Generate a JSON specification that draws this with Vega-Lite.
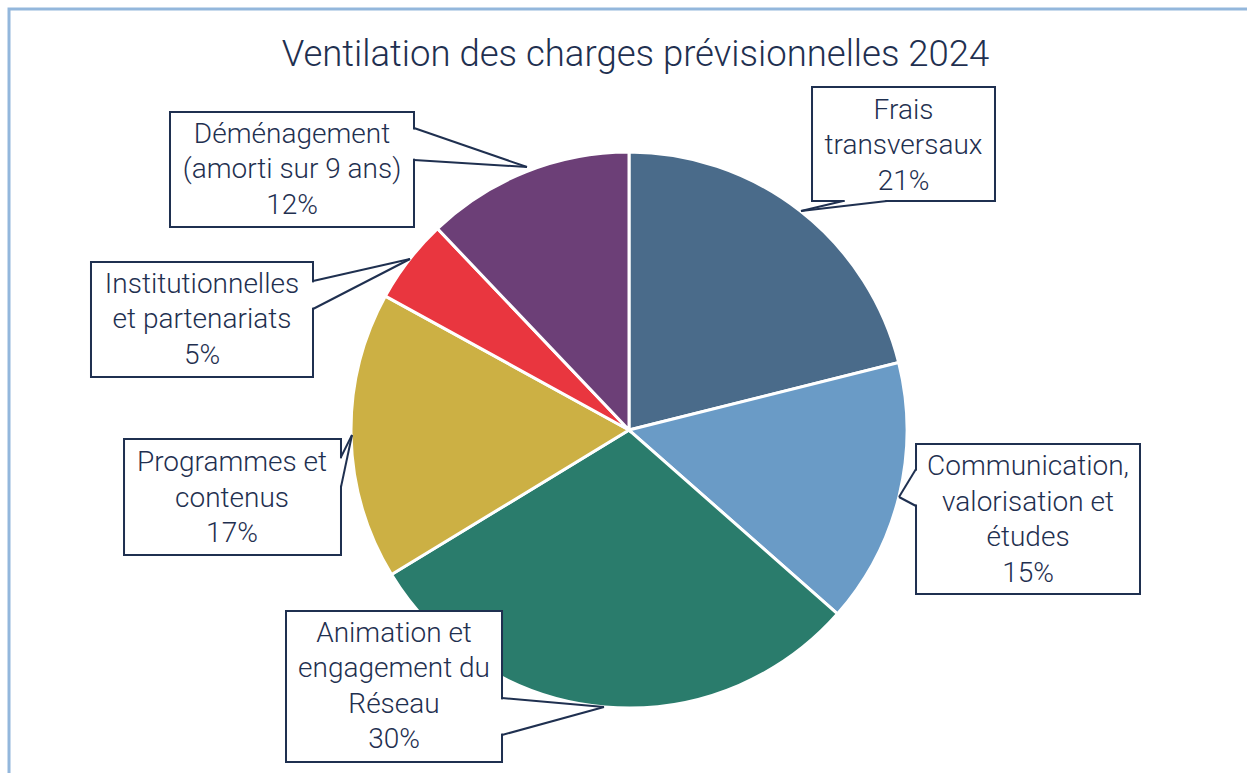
{
  "$schema": "https://vega.github.io/schema/vega-lite/v6.json",
  "width": 1247,
  "height": 693,
  "autosize": {"type": "none"},
  "padding": {"top": 80, "left": 0, "right": 0, "bottom": 0},
  "background": "white",
  "title": {
    "text": "Ventilation des charges prévisionnelles 2024",
    "font": "Roboto",
    "fontSize": 36.5,
    "fontWeight": 300,
    "color": "#1f3050",
    "anchor": "middle",
    "baseline": "alphabetic",
    "offset": -95,
    "dx": 12
  },
  "config": {
    "view": {"stroke": null},
    "axis": {"disable": true},
    "text": {"font": "Roboto", "fontSize": 28, "fontWeight": 300, "color": "#1f3050", "lineHeight": 35.5, "align": "center", "baseline": "middle"}
  },
  "data": {
    "values": [
      {"category": "Frais transversaux", "share": 0.211, "label": ["Frais", "transversaux", "21%"]},
      {"category": "Communication, valorisation et études", "share": 0.154, "label": ["Communication,", "valorisation et", "études", "15%"]},
      {"category": "Animation et engagement du Réseau", "share": 0.298, "label": ["Animation et", "engagement du", "Réseau", "30%"]},
      {"category": "Programmes et contenus", "share": 0.167, "label": ["Programmes et", "contenus", "17%"]},
      {"category": "Institutionnelles et partenariats", "share": 0.049, "label": ["Institutionnelles", "et partenariats", "5%"]},
      {"category": "Déménagement (amorti sur 9 ans)", "share": 0.121, "label": ["Déménagement", "(amorti sur 9 ans)", "12%"]}
    ]
  },
  "layer": [
    {
      "data": {"values": [{}]},
      "mark": {"type": "rect", "fill": null, "fillOpacity": 0, "stroke": "#93b7dc", "strokeWidth": 3},
      "encoding": {
        "x": {"datum": -223.02, "scale": {"domain": [-226.26, 222.30], "nice": false, "zero": false}},
        "x2": {"datum": 226.98},
        "y": {"datum": 151.44, "scale": {"domain": [-123.38, 125.90], "nice": false, "zero": false}},
        "y2": {"datum": -133.09}
      }
    },
    {
      "transform": [{"window": [{"op": "row_number", "as": "idx"}]}],
      "mark": {"type": "arc", "outerRadius": 278, "stroke": "white", "strokeWidth": 3},
      "encoding": {
        "x": {"datum": 0},
        "y": {"datum": 0},
        "theta": {"field": "share", "type": "quantitative", "stack": true},
        "order": {"field": "idx", "type": "quantitative"},
        "color": {
          "field": "category",
          "type": "nominal",
          "legend": null,
          "scale": {
            "domain": ["Frais transversaux", "Communication, valorisation et études", "Animation et engagement du Réseau", "Programmes et contenus", "Institutionnelles et partenariats", "Déménagement (amorti sur 9 ans)"],
            "range": ["#4a6b8a", "#6a9bc6", "#2a7c6c", "#ccb044", "#e9363f", "#6c3f77"]
          }
        }
      }
    },
    {
      "transform": [{"filter": {"field": "category", "equal": "Frais transversaux"}}],
      "layer": [
        {"mark": {"type": "rect", "fill": "white", "stroke": "#1f3050", "strokeWidth": 2}, "encoding": {"x": {"datum": 65.83}, "x2": {"datum": 131.65}, "y": {"datum": 123.38}, "y2": {"datum": 82.37}}},
        {"mark": {"type": "rule", "stroke": "white", "strokeWidth": 4}, "encoding": {"x": {"datum": 77.6}, "x2": {"datum": 92.2}, "y": {"datum": 82.37}, "y2": {"datum": 82.37}}},
        {"mark": {"type": "rule", "stroke": "#1f3050", "strokeWidth": 2}, "encoding": {"x": {"datum": 76.98}, "y": {"datum": 82.37}, "x2": {"datum": 61.87}, "y2": {"datum": 78.78}}},
        {"mark": {"type": "rule", "stroke": "#1f3050", "strokeWidth": 2}, "encoding": {"x": {"datum": 92.81}, "y": {"datum": 82.37}, "x2": {"datum": 61.87}, "y2": {"datum": 78.78}}},
        {"mark": {"type": "text"}, "encoding": {"x": {"datum": 98.74}, "y": {"datum": 114.75}, "text": {"field": "label"}}}
      ]
    },
    {
      "transform": [{"filter": {"field": "category", "equal": "Communication, valorisation et études"}}],
      "layer": [
        {"mark": {"type": "rect", "fill": "white", "stroke": "#1f3050", "strokeWidth": 2}, "encoding": {"x": {"datum": 103.24}, "x2": {"datum": 183.81}, "y": {"datum": -5.04}, "y2": {"datum": -58.99}}},
        {"mark": {"type": "rule", "stroke": "white", "strokeWidth": 4}, "encoding": {"x": {"datum": 103.24}, "x2": {"datum": 103.24}, "y": {"datum": -14.6}, "y2": {"datum": -26.8}}},
        {"mark": {"type": "rule", "stroke": "#1f3050", "strokeWidth": 2}, "encoding": {"x": {"datum": 103.24}, "y": {"datum": -14.03}, "x2": {"datum": 97.12}, "y2": {"datum": -24.10}}},
        {"mark": {"type": "rule", "stroke": "#1f3050", "strokeWidth": 2}, "encoding": {"x": {"datum": 103.24}, "y": {"datum": -27.34}, "x2": {"datum": 97.12}, "y2": {"datum": -24.10}}},
        {"mark": {"type": "text"}, "encoding": {"x": {"datum": 143.53}, "y": {"datum": -13.31}, "text": {"field": "label"}}}
      ]
    },
    {
      "transform": [{"filter": {"field": "category", "equal": "Animation et engagement du Réseau"}}],
      "layer": [
        {"mark": {"type": "rect", "fill": "white", "stroke": "#1f3050", "strokeWidth": 2}, "encoding": {"x": {"datum": -123.38}, "x2": {"datum": -45.68}, "y": {"datum": -65.11}, "y2": {"datum": -119.42}}},
        {"mark": {"type": "rule", "stroke": "white", "strokeWidth": 4}, "encoding": {"x": {"datum": -45.68}, "x2": {"datum": -45.68}, "y": {"datum": -96.9}, "y2": {"datum": -109.2}}},
        {"mark": {"type": "rule", "stroke": "#1f3050", "strokeWidth": 2}, "encoding": {"x": {"datum": -45.68}, "y": {"datum": -96.40}, "x2": {"datum": -8.99}, "y2": {"datum": -99.64}}},
        {"mark": {"type": "rule", "stroke": "#1f3050", "strokeWidth": 2}, "encoding": {"x": {"datum": -45.68}, "y": {"datum": -109.71}, "x2": {"datum": -8.99}, "y2": {"datum": -99.64}}},
        {"mark": {"type": "text"}, "encoding": {"x": {"datum": -84.53}, "y": {"datum": -73.38}, "text": {"field": "label"}}}
      ]
    },
    {
      "transform": [{"filter": {"field": "category", "equal": "Programmes et contenus"}}],
      "layer": [
        {"mark": {"type": "rect", "fill": "white", "stroke": "#1f3050", "strokeWidth": 2}, "encoding": {"x": {"datum": -181.65}, "x2": {"datum": -103.60}, "y": {"datum": -3.24}, "y2": {"datum": -44.96}}},
        {"mark": {"type": "rule", "stroke": "white", "strokeWidth": 4}, "encoding": {"x": {"datum": -103.60}, "x2": {"datum": -103.60}, "y": {"datum": -10.2}, "y2": {"datum": -20.0}}},
        {"mark": {"type": "rule", "stroke": "#1f3050", "strokeWidth": 2}, "encoding": {"x": {"datum": -103.60}, "y": {"datum": -9.71}, "x2": {"datum": -99.64}, "y2": {"datum": -1.80}}},
        {"mark": {"type": "rule", "stroke": "#1f3050", "strokeWidth": 2}, "encoding": {"x": {"datum": -103.60}, "y": {"datum": -20.50}, "x2": {"datum": -99.64}, "y2": {"datum": -1.80}}},
        {"mark": {"type": "text"}, "encoding": {"x": {"datum": -142.81}, "y": {"datum": -11.87}, "text": {"field": "label"}}}
      ]
    },
    {
      "transform": [{"filter": {"field": "category", "equal": "Institutionnelles et partenariats"}}],
      "layer": [
        {"mark": {"type": "rect", "fill": "white", "stroke": "#1f3050", "strokeWidth": 2}, "encoding": {"x": {"datum": -193.53}, "x2": {"datum": -113.67}, "y": {"datum": 60.43}, "y2": {"datum": 19.06}}},
        {"mark": {"type": "rule", "stroke": "white", "strokeWidth": 4}, "encoding": {"x": {"datum": -113.67}, "x2": {"datum": -113.67}, "y": {"datum": 53.1}, "y2": {"datum": 44.0}}},
        {"mark": {"type": "rule", "stroke": "#1f3050", "strokeWidth": 2}, "encoding": {"x": {"datum": -113.67}, "y": {"datum": 53.60}, "x2": {"datum": -78.78}, "y2": {"datum": 61.51}}},
        {"mark": {"type": "rule", "stroke": "#1f3050", "strokeWidth": 2}, "encoding": {"x": {"datum": -113.67}, "y": {"datum": 43.53}, "x2": {"datum": -78.78}, "y2": {"datum": 61.51}}},
        {"mark": {"type": "text"}, "encoding": {"x": {"datum": -153.60}, "y": {"datum": 52.16}, "text": {"field": "label"}}}
      ]
    },
    {
      "transform": [{"filter": {"field": "category", "equal": "Déménagement (amorti sur 9 ans)"}}],
      "layer": [
        {"mark": {"type": "rect", "fill": "white", "stroke": "#1f3050", "strokeWidth": 2}, "encoding": {"x": {"datum": -165.11}, "x2": {"datum": -77.34}, "y": {"datum": 114.39}, "y2": {"datum": 73.02}}},
        {"mark": {"type": "rule", "stroke": "white", "strokeWidth": 4}, "encoding": {"x": {"datum": -77.34}, "x2": {"datum": -77.34}, "y": {"datum": 108.1}, "y2": {"datum": 97.6}}},
        {"mark": {"type": "rule", "stroke": "#1f3050", "strokeWidth": 2}, "encoding": {"x": {"datum": -77.34}, "y": {"datum": 108.63}, "x2": {"datum": -36.69}, "y2": {"datum": 94.60}}},
        {"mark": {"type": "rule", "stroke": "#1f3050", "strokeWidth": 2}, "encoding": {"x": {"datum": -77.34}, "y": {"datum": 97.12}, "x2": {"datum": -36.69}, "y2": {"datum": 94.60}}},
        {"mark": {"type": "text"}, "encoding": {"x": {"datum": -121.22}, "y": {"datum": 106.12}, "text": {"field": "label"}}}
      ]
    }
  ]
}
